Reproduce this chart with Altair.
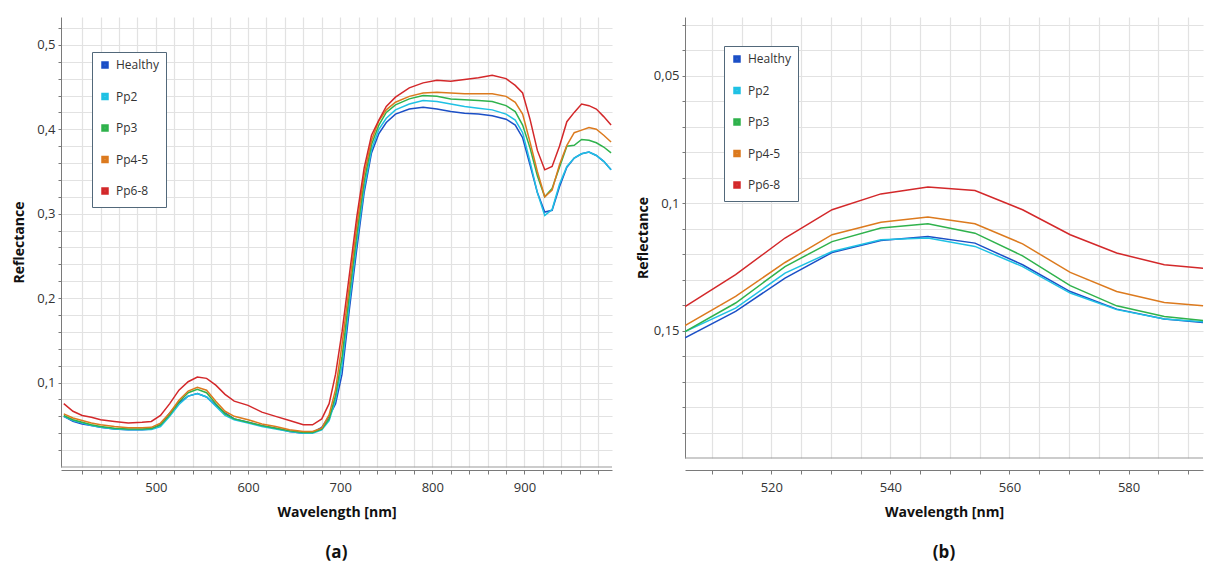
import altair as alt
import pandas as pd

series = ["Healthy", "Pp2", "Pp3", "Pp4-5", "Pp6-8"]
colors = ["#1b4fc6", "#1fc1e4", "#2fb24c", "#dc7a1e", "#d3282a"]

# ---- panel (a) ----
wl_a = [400, 410, 420, 430, 440, 455, 470, 485, 495, 505, 515, 525, 535, 545, 555, 565, 575, 585,
        600, 615, 630, 645, 660, 670, 680, 688, 695, 702, 710, 718, 726, 734, 742, 750, 760, 775,
        790, 805, 820, 835, 850, 865, 880, 890, 898, 906, 914, 922, 930, 938, 946, 954, 962, 970,
        978, 986, 994]
healthy_a = [0.060, 0.054, 0.051, 0.049, 0.047, 0.045, 0.044, 0.044, 0.045, 0.050, 0.064, 0.076,
             0.084, 0.087, 0.083, 0.073, 0.064, 0.057, 0.053, 0.049, 0.046, 0.042, 0.040, 0.041,
             0.047, 0.060, 0.075, 0.110, 0.187, 0.258, 0.325, 0.372, 0.395, 0.408, 0.418, 0.424,
             0.426, 0.424, 0.421, 0.419, 0.418, 0.416, 0.412, 0.405, 0.390, 0.358, 0.325, 0.302,
             0.304, 0.332, 0.355, 0.366, 0.371, 0.373, 0.369, 0.362, 0.352]
pp2_a = [0.060, 0.055, 0.052, 0.049, 0.047, 0.045, 0.044, 0.044, 0.0445, 0.048, 0.060, 0.074,
         0.084, 0.087, 0.083, 0.072, 0.061, 0.056, 0.052, 0.048, 0.045, 0.042, 0.040, 0.040,
         0.044, 0.055, 0.080, 0.120, 0.195, 0.266, 0.330, 0.376, 0.400, 0.413, 0.423, 0.430,
         0.434, 0.433, 0.430, 0.427, 0.425, 0.423, 0.418, 0.411, 0.396, 0.362, 0.325, 0.298,
         0.305, 0.335, 0.356, 0.366, 0.371, 0.373, 0.369, 0.362, 0.352]
pp3_a = [0.061, 0.056, 0.053, 0.050, 0.048, 0.046, 0.045, 0.045, 0.0455, 0.050, 0.062, 0.077,
         0.088, 0.092, 0.088, 0.075, 0.063, 0.057, 0.053, 0.049, 0.046, 0.043, 0.041, 0.041,
         0.045, 0.057, 0.085, 0.130, 0.205, 0.275, 0.338, 0.382, 0.405, 0.420, 0.429, 0.436,
         0.440, 0.439, 0.436, 0.435, 0.434, 0.433, 0.428, 0.421, 0.405, 0.378, 0.345, 0.320,
         0.330, 0.355, 0.380, 0.381, 0.388, 0.387, 0.384, 0.379, 0.372]
pp45_a = [0.063, 0.058, 0.055, 0.052, 0.050, 0.048, 0.0465, 0.0465, 0.047, 0.052, 0.064, 0.079,
          0.090, 0.0945, 0.091, 0.078, 0.066, 0.060, 0.056, 0.051, 0.048, 0.044, 0.042, 0.042,
          0.046, 0.062, 0.092, 0.145, 0.215, 0.285, 0.346, 0.387, 0.410, 0.423, 0.432, 0.439,
          0.443, 0.444, 0.443, 0.442, 0.442, 0.442, 0.439, 0.432, 0.418, 0.385, 0.350, 0.320,
          0.328, 0.358, 0.381, 0.396, 0.399, 0.402, 0.400, 0.393, 0.385]
pp68_a = [0.075, 0.066, 0.061, 0.059, 0.056, 0.054, 0.052, 0.053, 0.054, 0.061, 0.075, 0.091,
          0.101, 0.1065, 0.105, 0.097, 0.086, 0.078, 0.073, 0.065, 0.060, 0.055, 0.050, 0.050,
          0.057, 0.075, 0.110, 0.160, 0.228, 0.296, 0.354, 0.393, 0.411, 0.427, 0.438, 0.449,
          0.455, 0.458, 0.457, 0.459, 0.461, 0.464, 0.460, 0.452, 0.443, 0.412, 0.375, 0.352,
          0.356, 0.380, 0.409, 0.420, 0.430, 0.428, 0.424, 0.415, 0.405]

# ---- panel (b) ----
wl_b = [505.5, 514.0, 522.3, 530.2, 538.4, 546.3, 554.2, 562.2, 570.2, 578.0, 586.0, 594.0]
healthy_b = [0.1529, 0.1425, 0.1294, 0.1194, 0.1147, 0.1131, 0.1157, 0.1242, 0.1347, 0.1416, 0.1455, 0.1471]
pp2_b = [0.1504, 0.1412, 0.1275, 0.1190, 0.1144, 0.1137, 0.1170, 0.1249, 0.1353, 0.1418, 0.1455, 0.1468]
pp3_b = [0.1504, 0.1392, 0.1249, 0.1151, 0.1098, 0.1081, 0.1118, 0.1207, 0.1324, 0.1403, 0.1445, 0.1464]
pp45_b = [0.1481, 0.1366, 0.1233, 0.1124, 0.1075, 0.1055, 0.1081, 0.1160, 0.1272, 0.1347, 0.1390, 0.1406]
pp68_b = [0.1406, 0.1281, 0.1137, 0.1026, 0.0964, 0.0937, 0.0951, 0.1026, 0.1124, 0.1196, 0.1242, 0.1259]

# axis positions (ticks / gridlines)
xa_vals = list(range(420, 1000, 20))
ya_vals = [round(0.02 * i, 2) for i in range(1, 27)]
xb_vals = list(range(510, 595, 5))
yb_vals = [round(0.01 * i, 2) for i in range(3, 20)]


def long_df(wl, cols):
    rows = []
    for name, vals in zip(series, cols):
        for w, v in zip(wl, vals):
            rows.append({"wl": w, "refl": v, "series": name})
    return pd.DataFrame(rows)


df_a = long_df(wl_a, [healthy_a, pp2_a, pp3_a, pp45_a, pp68_a])
df_b = long_df(wl_b, [healthy_b, pp2_b, pp3_b, pp45_b, pp68_b])

FONT = "Open Sans"
GRID = "#e2e2e2"
AX = "#7a7a7a"


def x_axis(vals, test, offset):
    return alt.Axis(values=vals, labelExpr=f"({test}) ? datum.value : ''", title="Wavelength [nm]",
                    labelOverlap=False, labelFlush=False, grid=True, gridColor=GRID, gridWidth=1.2,
                    domainColor=AX, tickColor=AX, tickSize=4, offset=offset, labelFont=FONT,
                    labelFontSize=13, labelColor="#333", labelPadding=7, titleFont=FONT,
                    titleFontSize=14, titleFontWeight="bold", titleColor="#111", titlePadding=11)


def y_axis(vals, test, fmt, tpad):
    return alt.Axis(values=vals,
                    labelExpr=f"({test}) ? replace(format(datum.value, '{fmt}'), '.', ',') : ''",
                    title="Reflectance", labelOverlap=False, labelFlush=False, grid=True,
                    gridColor=GRID, gridWidth=1.2, domainColor=AX, tickColor=AX, tickSize=3,
                    labelFont=FONT, labelFontSize=13, labelColor="#333", labelPadding=3,
                    titleFont=FONT, titleFontSize=14, titleFontWeight="bold", titleColor="#111",
                    titlePadding=tpad)


def legend(lx, ly):
    return alt.Legend(orient="none", legendX=lx, legendY=ly, title=None, symbolType="square",
                      symbolSize=16, symbolStrokeWidth=3.5, labelFont=FONT, labelFontSize=12,
                      labelColor="#333", rowPadding=13.5, padding=7, labelOffset=5,
                      strokeColor="#52687a", fillColor="white", direction="vertical")


def panel(df, xdom, ydom, yrev, xvals, xtest, yvals, ytest, yfmt, tpad, xoff, rule_y,
          w, h, lx, ly, tag):
    sx = alt.Scale(domain=xdom, nice=False, zero=False)
    sy = alt.Scale(domain=ydom, nice=False, zero=False, reverse=yrev)
    rule = alt.Chart(pd.DataFrame({"refl": [rule_y]})).mark_rule(color="#9a9a9a", strokeWidth=1.2).encode(
        y=alt.Y("refl:Q", scale=sy, axis=y_axis(yvals, ytest, yfmt, tpad))
    )
    lines = alt.Chart(df).mark_line(strokeWidth=1.5, clip=True).encode(
        x=alt.X("wl:Q", scale=sx, axis=x_axis(xvals, xtest, xoff)),
        y=alt.Y("refl:Q", scale=sy, axis=y_axis(yvals, ytest, yfmt, tpad)),
        color=alt.Color("series:N", scale=alt.Scale(domain=series, range=colors),
                        legend=legend(lx, ly)),
    )
    return alt.layer(rule, lines).properties(
        width=w, height=h,
        title=alt.TitleParams(tag, orient="bottom", anchor="middle", font=FONT, fontSize=17,
                              fontWeight="bold", color="#111", offset=26),
    )


chart_a = panel(df_a, [397, 995], [0, 0.533], False, xa_vals, "datum.value % 100 == 0",
                ya_vals, "abs(datum.value*10 - round(datum.value*10)) < 0.001", ".1f", 10, 3, 0,
                551, 450, 31, 35, "(a)")
chart_b = panel(df_b, [505.5, 592.5], [0.027, 0.2], True, xb_vals, "datum.value % 20 == 0",
                yb_vals, "abs(datum.value*20 - round(datum.value*20)) < 0.001", ".2~f", 3, 12, 0.2,
                518, 441, 39, 29, "(b)")

chart = alt.hconcat(chart_a, chart_b, spacing=23).resolve_legend(color="independent").properties(
    padding={"left": 4, "top": 9, "right": 0, "bottom": 4}
).configure_view(stroke=None)

chart.save("out.html", embed_options={"renderer": "svg", "actions": False})
